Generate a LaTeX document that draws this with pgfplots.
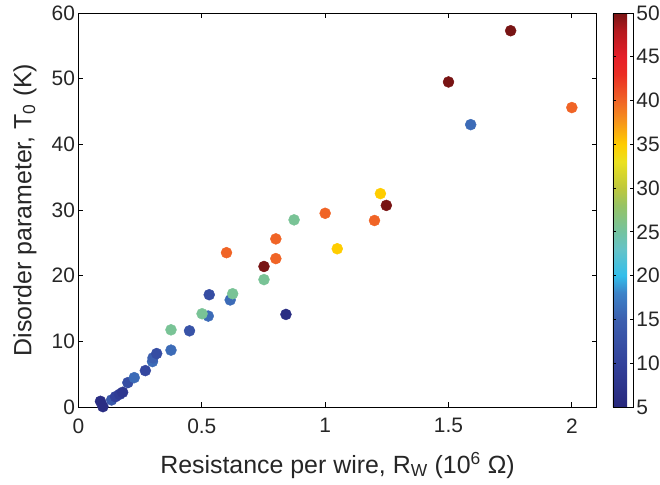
\documentclass[border=0pt]{standalone}
\usepackage{pgfplots}
\pgfplotsset{compat=1.18}
\usepackage{fontspec}
\setmainfont{Liberation Sans}

\pgfplotsset{colormap={mjet}{rgb255(5)=(40,40,125) rgb255(10)=(50,65,155) rgb255(15)=(60,95,175) rgb255(18)=(60,130,200) rgb255(20)=(50,190,235) rgb255(23)=(100,195,200) rgb255(25)=(115,195,160) rgb255(28)=(150,195,100) rgb255(30)=(190,200,60) rgb255(33)=(235,225,30) rgb255(35)=(255,205,0) rgb255(38)=(245,140,30) rgb255(40)=(240,100,38) rgb255(43)=(235,45,35) rgb255(45)=(230,30,40) rgb255(48)=(180,25,30) rgb255(50)=(120,20,20)}}

\pgfplotstableread{
x y c
0.099 0.05 6
0.089 0.87 6
0.134 1.07 14
0.150 1.57 10
0.167 1.94 9
0.179 2.24 8
0.200 3.71 12
0.226 4.47 16
0.271 5.54 11
0.300 6.92 16
0.302 7.48 15
0.317 8.14 12
0.375 8.66 16
0.450 11.6 13
0.375 11.75 25.5
0.526 13.85 16
0.501 14.2 25.5
0.841 14.1 6
0.615 16.3 16
0.530 17.1 12
0.625 17.25 25.5
0.752 19.4 25.5
0.752 21.4 50
0.800 22.6 40
0.600 23.5 40
1.049 24.1 35
0.800 25.6 40
0.874 28.5 25.5
1.200 28.4 40
1.000 29.5 40
1.248 30.7 50
1.224 32.5 35
2.000 45.6 40
1.590 43.0 16
1.500 49.5 50
1.752 57.3 50
}\datatable

\begin{document}
\begin{tikzpicture}
\useasboundingbox (-78.5bp,-78bp) rectangle (581.5bp,407bp);
\begin{axis}[
  at={(0,0)}, anchor=south west,
  scale only axis, width=518bp, height=394bp,
  xmin=0, xmax=2.1, ymin=0, ymax=60,
  xtick={0,0.5,1,1.5,2}, ytick={0,10,...,60},
  tick align=inside, major tick length=5bp,
  /pgf/number format/assume math mode=true,
  tick label style={font=\fontsize{21}{24}\selectfont, text=black!85},
  xticklabel style={yshift=-8bp},
  label style={font=\fontsize{25}{30}\selectfont, text=black!85},
  xlabel={Resistance per wire, R\textsubscript{W} (10\textsuperscript{6} Ω)},
  ylabel={Disorder parameter, T\textsubscript{0} (K)},
  xlabel style={at={(axis description cs:0.5,0)}, anchor=base, yshift=-66bp},
  ylabel style={at={(axis description cs:-0.1033,0.5)}, anchor=center},
  axis line style={line width=0.8bp},
  every tick/.style={black, line width=0.8bp},
  colormap name=mjet, point meta min=5, point meta max=50,
  colorbar,
  colorbar shift/.style={xshift=16bp},
  colorbar style={width=20bp, ytick={5,10,...,50}, tick align=inside, major tick length=3bp,
    ytick pos=both, yticklabel pos=right,
    yticklabel style={font=\fontsize{21}{24}\selectfont, text=black!85},
    /pgf/number format/assume math mode=true,
    axis line style={line width=0.8bp}},
]
\addplot[scatter, only marks, mark=*, mark size=5.5bp, scatter src=explicit,
  scatter/use mapped color={draw=mapped color, fill=mapped color}]
  table[x=x, y=y, meta=c] {\datatable};
\end{axis}
\end{tikzpicture}
\end{document}
